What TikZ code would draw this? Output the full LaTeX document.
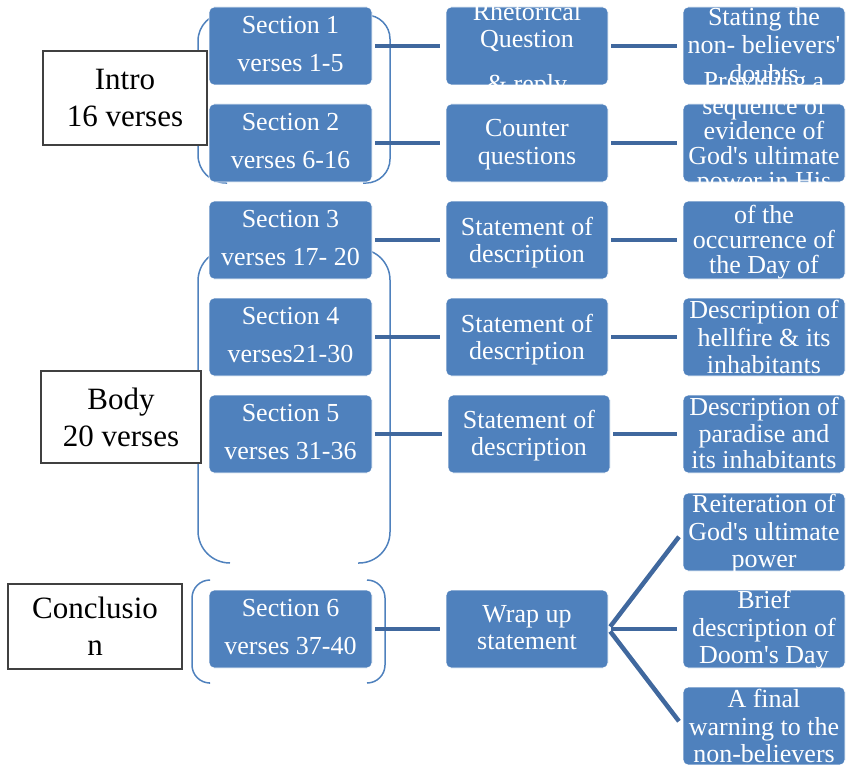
\documentclass[tikz,border=0pt]{standalone}
\usepackage{fontspec}
\setmainfont{Liberation Serif}
\definecolor{boxblue}{RGB}{79,129,189}
\definecolor{connblue}{RGB}{64,104,158}
\definecolor{brk}{RGB}{79,129,189}
\definecolor{lblborder}{RGB}{64,64,64}
\newcommand{\sq}{\textquotesingle}
\begin{document}
\begin{tikzpicture}[x=1pt,y=-1pt,
  bbox/.style={draw=white, line width=0.8pt, fill=boxblue, rounded corners=5pt,
    minimum width=162pt, minimum height=78pt, inner sep=0pt},
  lbl/.style={draw=lblborder, line width=1.3pt, fill=white, inner sep=0pt,
    align=center, font=\fontsize{31}{37}\selectfont},
  txt/.style={text=white, align=center, inner sep=0pt},
  sectxt/.style={txt, font=\fontsize{26}{38}\selectfont},
  midtxt/.style={txt, font=\fontsize{26}{27}\selectfont},
  conn/.style={draw=connblue, line width=4.5pt, shorten <=3pt, shorten >=6pt},
  brace/.style={draw=brk, line width=1.5pt}]
\useasboundingbox (0,0) rectangle (846,765);

% brackets
\draw[brace, rounded corners=28pt] (227,13) -- (198,13) -- (198,183) -- (227,183);
\draw[brace, rounded corners=24pt] (366,15) -- (390,15) -- (390,183) -- (363,183);
\draw[brace, rounded corners=32pt] (230,249) -- (198,249) -- (198,563) -- (230,563);
\draw[brace, rounded corners=31pt] (361,249) -- (390,249) -- (390,563) -- (358,563);
\draw[brace, rounded corners=18pt] (209,580) -- (192,580) -- (192,683) -- (209,683);
\draw[brace, rounded corners=18pt] (367,580) -- (385,580) -- (385,683) -- (367,683);

% label boxes
\node[lbl, minimum width=164pt, minimum height=94pt] (intro) at (125,98) {Intro\\16 verses};
\node[lbl, minimum width=160pt, minimum height=92pt] (body) at (121,417) {Body\\20 verses};
\node[lbl, minimum width=174pt, minimum height=85pt] (concl) at (95,626.5) {Conclusio\\n};

% section boxes
\node[bbox, minimum width=163pt] (s1) at (290.5,46) {};
\node[bbox, minimum width=163pt] (s2) at (290.5,143) {};
\node[bbox, minimum width=163pt] (s3) at (290.5,240) {};
\node[bbox, minimum width=163pt] (s4) at (290.5,337) {};
\node[bbox, minimum width=163pt] (s5) at (290.5,434) {};
\node[bbox, minimum width=163pt] (s6) at (290.5,629) {};

% middle boxes
\node[bbox] (m1) at (527,46) {};
\node[bbox] (m2) at (527,143) {};
\node[bbox] (m3) at (527,240) {};
\node[bbox] (m4) at (527,337) {};
\node[bbox] (m5) at (529,434) {};
\node[bbox] (m6) at (527,629) {};

% right boxes
\node[bbox] (r1) at (764,46) {};
\node[bbox] (r2) at (764,143) {};
\node[bbox] (r3) at (764,240) {};
\node[bbox] (r4) at (764,337) {};
\node[bbox] (r5) at (764,434) {};
\node[bbox] (r6a) at (764,532) {};
\node[bbox] (r6b) at (764,629) {};
\node[bbox] (r6c) at (764,726) {};

% connectors
\foreach \i in {1,...,6} {
  \draw[conn] (s\i.east) -- (m\i.west);
}
\foreach \i in {1,...,5} {
  \draw[conn] (m\i.east) -- (r\i.west);
}
\draw[conn] (m6.east) -- (r6a.west);
\draw[conn] (m6.east) -- (r6b.west);
\draw[conn] (m6.east) -- (r6c.west);

% section texts
\node[sectxt] (s1t) at (290.5,44) {Section 1\\verses 1-5};
\node[sectxt] (s2t) at (290.5,141) {Section 2\\verses 6-16};
\node[sectxt] (s3t) at (290.5,238) {Section 3\\verses 17- 20};
\node[sectxt] (s4t) at (290.5,335) {Section 4\\verses21-30};
\node[sectxt] (s5t) at (290.5,432) {Section 5\\verses 31-36};
\node[sectxt] (s6t) at (290.5,627) {Section 6\\verses 37-40};

% middle texts
\node[midtxt, anchor=north] (m1t) at (527,2.5) {Rhetorical\\Question\\[18pt]\& reply};
\node[midtxt, anchor=north, font=\fontsize{26}{28}\selectfont] (m2t) at (527,119.5) {Counter\\questions};
\node[midtxt, anchor=north] (m3t) at (527,217) {Statement of\\description};
\node[midtxt, anchor=north] (m4t) at (527,314) {Statement of\\description};
\node[midtxt, anchor=north] (m5t) at (529,410) {Statement of\\description};
\node[midtxt, anchor=north] (m6t) at (527,605) {Wrap up\\statement};

% right texts
\node[txt, anchor=north, font=\fontsize{26}{28.5}\selectfont] (r1t) at (764,7) {Stating the\\non- believers\sq\\doubts};
\node[txt, anchor=north, font=\fontsize{26}{25}\selectfont] (r2t) at (764,71) {Providing a\\sequence of\\evidence of\\God\sq s ultimate\\power in His};
\node[txt, anchor=north, font=\fontsize{26}{25}\selectfont] (r3t) at (764,205) {of the\\occurrence of\\the Day of};
\node[txt, anchor=north, font=\fontsize{26}{27.5}\selectfont] (r4t) at (764,300) {Description of\\hellfire \& its\\inhabitants};
\node[txt, anchor=north, font=\fontsize{26}{26.5}\selectfont] (r5t) at (764,397) {Description of\\paradise and\\its inhabitants};
\node[txt, anchor=north, font=\fontsize{26}{27.5}\selectfont] (r6at) at (764,494) {Reiteration of\\God\sq s ultimate\\power};
\node[txt, anchor=north, font=\fontsize{26}{27.5}\selectfont] (r6bt) at (764,590) {Brief\\description of\\Doom\sq s Day};
\node[txt, anchor=north, font=\fontsize{26}{27.5}\selectfont] (r6ct) at (764,689) {A final\\warning to the\\non-believers};
\end{tikzpicture}
\end{document}
